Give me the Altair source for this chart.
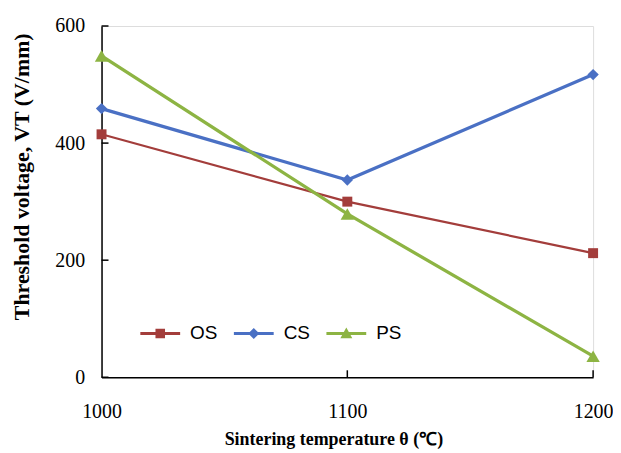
import altair as alt
import pandas as pd

temps = [1000, 1100, 1200]
series_names = ["OS", "CS", "PS"]
os_vals = [415, 300, 212]
cs_vals = [459, 337, 517]
ps_vals = [549, 279, 36]
y_ticks = [0, 200, 400, 600]
x_ticks = [1100, 1200]

colors = {"OS": "#A33D3B", "CS": "#4A70C4", "PS": "#8DB443"}
shapes = {"OS": "square", "CS": "diamond", "PS": "triangle-up"}
sizes = {"OS": 100, "CS": 130, "PS": 180}
widths = {"OS": 2.2, "CS": 3.3, "PS": 3.3}

rows = []
for name, vals in zip(series_names, [os_vals, cs_vals, ps_vals]):
    for t, v in zip(temps, vals):
        rows.append({"series": name, "t": t, "v": v})
df = pd.DataFrame(rows)

W, H = 494, 353
FONT = "Liberation Serif"

xscale = alt.Scale(domain=[1000, 1200], nice=False, zero=False)
yscale = alt.Scale(domain=[0, 600], nice=False)

xaxis = alt.Axis(values=[1000, 1100, 1200], format="d", ticks=False, grid=False,
                 labelFlush=False, labelPadding=24, labelFont=FONT, labelFontSize=20,
                 labelColor="black",
                 title="Sintering temperature θ (℃)", titleFont=FONT, titleFontSize=18,
                 titleFontWeight="bold", titleColor="black", titlePadding=10,
                 titleX=233, titleAlign="center",
                 domainColor="black", domainWidth=1.5)
yaxis = alt.Axis(values=y_ticks, ticks=False, grid=False, labelPadding=17,
                 labelFlush=False,
                 labelFont=FONT, labelFontSize=20, labelColor="black",
                 title="Threshold voltage, VT (V/mm)", titleFont=FONT, titleFontSize=22,
                 titleFontWeight="bold", titleColor="#000000", titlePadding=21,
                 titleY=151, titleAlign="center",
                 domainColor="black", domainWidth=1.5)

base = alt.Chart(df)

layers = []
# axes carrier
layers.append(base.mark_line(opacity=0).encode(
    x=alt.X("t:Q", scale=xscale, axis=xaxis),
    y=alt.Y("v:Q", scale=yscale, axis=yaxis)))

for name in series_names:
    sub = base.transform_filter(alt.datum.series == name)
    layers.append(sub.mark_line(color=colors[name], strokeWidth=widths[name]).encode(
        x=alt.X("t:Q", scale=xscale), y=alt.Y("v:Q", scale=yscale)))
for name in series_names:
    sub = base.transform_filter(alt.datum.series == name)
    layers.append(sub.mark_point(color=colors[name], shape=shapes[name], filled=True,
                                 opacity=1, size=sizes[name]).encode(
        x=alt.X("t:Q", scale=xscale), y=alt.Y("v:Q", scale=yscale)))

# inward ticks
ytick_df = pd.DataFrame({"v": y_ticks})
layers.append(alt.Chart(ytick_df).mark_rule(color="black", strokeWidth=1.5).encode(
    y=alt.Y("v:Q", scale=yscale), x=alt.value(0), x2=alt.value(7)))
xtick_df = pd.DataFrame({"t": x_ticks})
layers.append(alt.Chart(xtick_df).mark_rule(color="black", strokeWidth=1.5).encode(
    x=alt.X("t:Q", scale=xscale), y=alt.value(H), y2=alt.value(H - 7)))

# legend carrier (no visible marks)
leg_paths = [
    "M-1,-0.07H1V0.07H-1Z M-0.24,-0.24H0.24V0.24H-0.24Z",
    "M-1,-0.08H1V0.08H-1Z M0,-0.28L0.28,0L0,0.28L-0.28,0Z",
    "M-1,-0.08H1V0.08H-1Z M0,-0.3L0.3,0.24H-0.3Z",
]
legend = alt.Legend(title=None, orient="none", direction="horizontal",
                    legendX=39, legendY=289, symbolSize=1600, symbolStrokeWidth=0,
                    labelFont="Liberation Sans", labelFontSize=19, labelColor="black",
                    labelOffset=10, columnPadding=16, padding=0)
layers.append(base.transform_filter("datum.v < -1000").mark_point(filled=True, opacity=1).encode(
    x=alt.X("t:Q", scale=xscale), y=alt.Y("v:Q", scale=yscale),
    color=alt.Color("series:N", scale=alt.Scale(domain=series_names,
                    range=[colors[n] for n in series_names]), legend=legend),
    shape=alt.Shape("series:N", scale=alt.Scale(domain=series_names, range=leg_paths),
                    legend=legend)))

chart = alt.layer(*layers).properties(
    width=W, height=H,
    padding={"left": 2, "top": 7, "right": 0, "bottom": 2},
).configure_view(stroke=None).configure(background="white")

chart.save("out.html", embed_options={"renderer": "svg", "actions": False})
